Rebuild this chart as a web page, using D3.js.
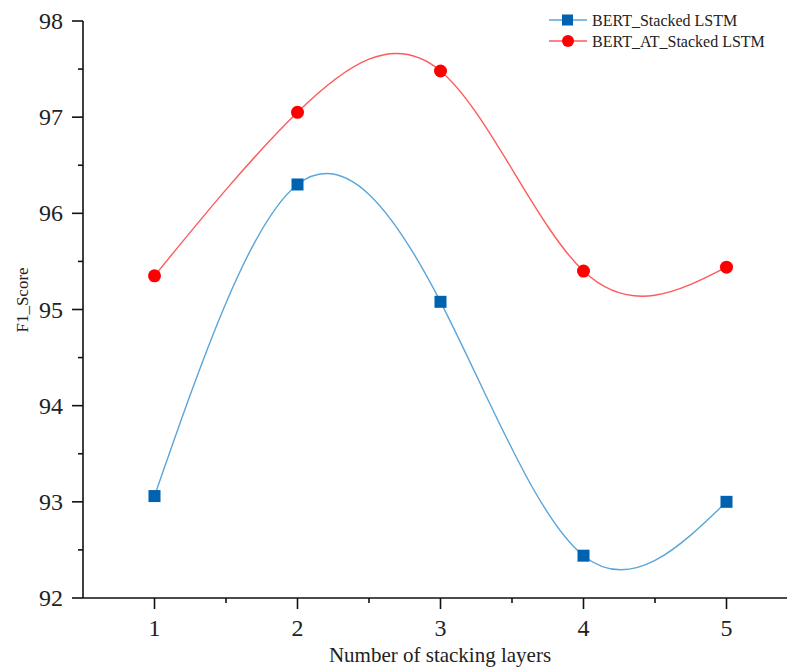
<!DOCTYPE html>
<html><head><meta charset="utf-8">
<script src="https://cdn.jsdelivr.net/npm/d3@7"></script>
<style>body{margin:0;background:#fff}svg{display:block}text{font-family:"Liberation Serif","Times New Roman",serif;fill:#222}</style>
</head><body><svg id="c" width="787" height="669"></svg>
<script>
const layers = [1, 2, 3, 4, 5];
const bertStacked = [93.06, 96.30, 95.08, 92.44, 93.00];
const bertAtStacked = [95.35, 97.05, 97.48, 95.40, 95.44];
const yTicks = [92, 93, 94, 95, 96, 97, 98];
const seriesNames = ["BERT_Stacked LSTM", "BERT_AT_Stacked LSTM"];

const svg = d3.select("#c");
const x = d3.scaleLinear().domain([0.5, 5.5]).range([83, 798]);
const y = d3.scaleLinear().domain([92, 98]).range([598, 21]);

// axes
const xAxis = svg.append("g").attr("transform", "translate(0,598)");
xAxis.append("line").attr("x1", 83).attr("x2", 787).attr("y1", 0).attr("y2", 0).attr("stroke", "#111").attr("stroke-width", 1.6);
const xMinor = d3.range(1.5, 5.5, 1);
xAxis.selectAll(".xt").data(layers).join("line").attr("x1", d => x(d)).attr("x2", d => x(d)).attr("y1", 0).attr("y2", 11).attr("stroke", "#111").attr("stroke-width", 1.6);
xAxis.selectAll(".xm").data(xMinor).join("line").attr("x1", d => x(d)).attr("x2", d => x(d)).attr("y1", 0).attr("y2", 5).attr("stroke", "#111").attr("stroke-width", 1.6);
xAxis.selectAll(".xl").data(layers).join("text").attr("x", d => x(d)).attr("y", 38).attr("text-anchor", "middle").attr("font-size", 24).text(d => d);

const yAxis = svg.append("g").attr("transform", "translate(83,0)");
yAxis.append("line").attr("x1", 0).attr("x2", 0).attr("y1", y(98)).attr("y2", 598).attr("stroke", "#111").attr("stroke-width", 1.6);
yAxis.selectAll(".yt").data(yTicks).join("line").attr("x1", -11).attr("x2", 0).attr("y1", d => y(d)).attr("y2", d => y(d)).attr("stroke", "#111").attr("stroke-width", 1.6);
yAxis.selectAll(".ym").data(d3.range(92.5, 98, 1)).join("line").attr("x1", -5).attr("x2", 0).attr("y1", d => y(d)).attr("y2", d => y(d)).attr("stroke", "#111").attr("stroke-width", 1.6);
yAxis.selectAll(".yl").data(yTicks).join("text").attr("x", -20).attr("y", d => y(d) + 8).attr("text-anchor", "end").attr("font-size", 24).text(d => d);

svg.append("text").attr("transform", "translate(28,300) rotate(-90)").attr("text-anchor", "middle").attr("font-size", 17).text("F1_Score");
svg.append("text").attr("x", 440).attr("y", 662).attr("text-anchor", "middle").attr("font-size", 21).text("Number of stacking layers");

const line = d3.line().x(d => x(d[0])).y(d => y(d[1])).curve(d3.curveNatural);
const blue = "#0063b1", blueLine = "#5aa5da", red = "#ff0000", redLine = "#ff5a5a";

svg.append("path").attr("d", line(layers.map((l, i) => [l, bertStacked[i]]))).attr("fill", "none").attr("stroke", blueLine).attr("stroke-width", 1.4);
svg.append("path").attr("d", line(layers.map((l, i) => [l, bertAtStacked[i]]))).attr("fill", "none").attr("stroke", redLine).attr("stroke-width", 1.4);

svg.selectAll(".sq").data(layers).join("rect").attr("x", d => x(d) - 6).attr("y", (d, i) => y(bertStacked[i]) - 6).attr("width", 12).attr("height", 12).attr("fill", blue);
svg.selectAll(".ci").data(layers).join("circle").attr("cx", d => x(d)).attr("cy", (d, i) => y(bertAtStacked[i])).attr("r", 6.5).attr("fill", red);

// legend
const lg = svg.append("g");
lg.append("line").attr("x1", 549).attr("x2", 587).attr("y1", 20).attr("y2", 20).attr("stroke", blueLine).attr("stroke-width", 1.4);
lg.append("rect").attr("x", 562).attr("y", 14.5).attr("width", 11).attr("height", 11).attr("fill", blue);
lg.append("text").attr("x", 592).attr("y", 25.5).attr("font-size", 16).text(seriesNames[0]);
lg.append("line").attr("x1", 549).attr("x2", 587).attr("y1", 41).attr("y2", 41).attr("stroke", redLine).attr("stroke-width", 1.4);
lg.append("circle").attr("cx", 568).attr("cy", 41).attr("r", 6).attr("fill", red);
lg.append("text").attr("x", 592).attr("y", 46.5).attr("font-size", 16).text(seriesNames[1]);
</script></body></html>
